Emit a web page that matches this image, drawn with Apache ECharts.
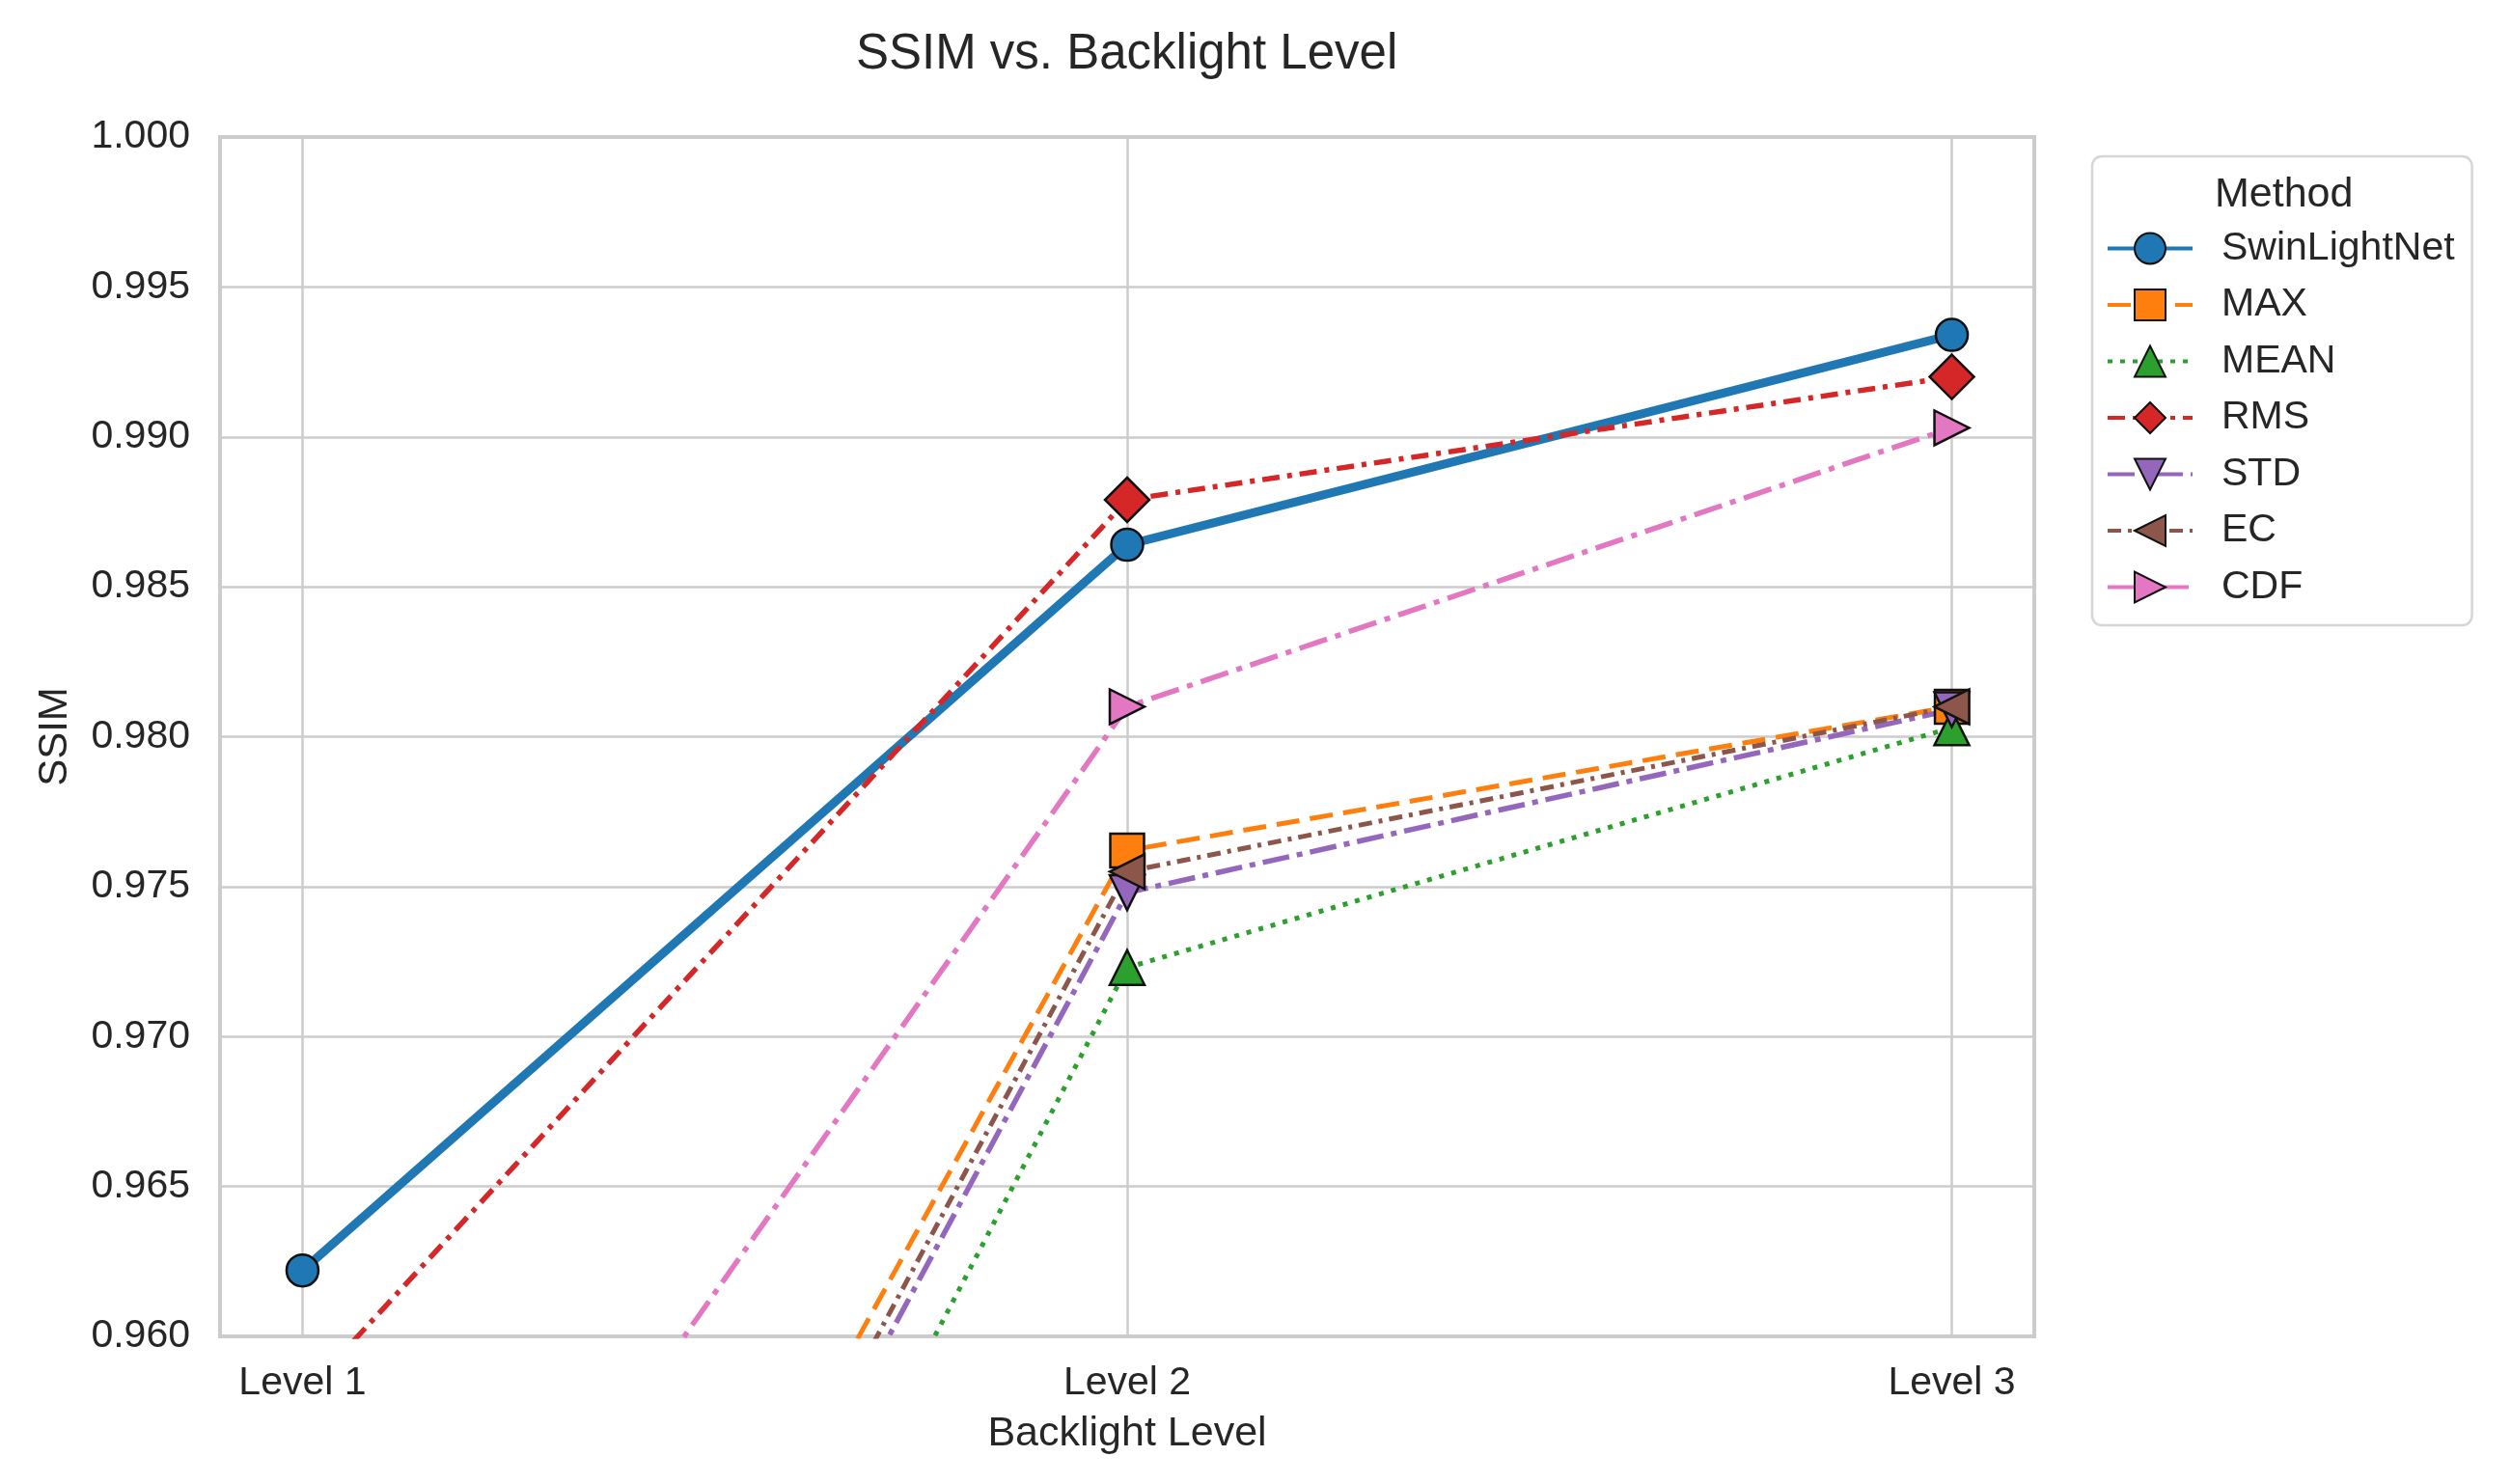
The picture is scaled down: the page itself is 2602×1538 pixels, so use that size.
<!DOCTYPE html>
<html>
<head>
<meta charset="utf-8">
<title>SSIM vs. Backlight Level</title>
<script src="https://cdn.jsdelivr.net/npm/echarts@6/dist/echarts.min.js"></script>
<style>
  html, body { margin: 0; padding: 0; background: #fff; }
  #chart { width: 2602px; height: 1538px; }
</style>
</head>
<body>
<div id="chart"></div>
<script>
// categories on the x axis
const levels = ['Level 1', 'Level 2', 'Level 3'];
const yTicks = [0.960, 0.965, 0.970, 0.975, 0.980, 0.985, 0.990, 0.995, 1.000];

// SSIM per method (Level 1, Level 2, Level 3)
const swinLightNet = [0.9622, 0.9864, 0.9934];
const maxVals = [0.9264, 0.9762, 0.9810];
const meanVals = [0.9196, 0.9723, 0.9803];
const rmsVals = [0.9580, 0.9879, 0.9920];
const stdVals = [0.9236, 0.9748, 0.9809];
const ecVals = [0.9244, 0.9755, 0.9810];
const cdfVals = [0.9419, 0.9810, 0.9903];

const methods = ['SwinLightNet', 'MAX', 'MEAN', 'RMS', 'STD', 'EC', 'CDF'];

function drawChart() {
  const chart = echarts.init(document.getElementById('chart'));
  const font = 'Liberation Sans, Arial, sans-serif';
  const textColor = '#262626';
  const gridColor = '#cccccc';

  // x positions are the category indices
  const pts = vals => vals.map((v, i) => [i, v]);

  function makeSeries(name, vals, color, width, dash, symbol, size, rotate) {
    return {
      name: name,
      type: 'line',
      data: pts(vals),
      symbol: symbol,
      symbolSize: size,
      symbolRotate: rotate || 0,
      showAllSymbol: true,
      clip: true,
      lineStyle: { color: color, width: width, type: dash },
      itemStyle: { color: color, borderColor: '#111', borderWidth: 2.5 },
      emphasis: { disabled: true }
    };
  }

  const option = {
    animation: false,
    backgroundColor: '#ffffff',
    title: [
      {
        text: 'SSIM vs. Backlight Level',
        left: 882,
        top: 26,
        textStyle: { fontFamily: font, fontSize: 51, fontWeight: 'normal', color: textColor }
      },
      {
        text: 'Method',
        left: 2290,
        top: 176,
        z: 10,
        textStyle: { fontFamily: font, fontSize: 43, fontWeight: 'normal', color: textColor }
      }
    ],
    legend: {
      data: methods,
      orient: 'vertical',
      left: 2168,
      top: 162,
      padding: [75, 18, 19, 14],
      itemWidth: 88,
      itemHeight: 40,
      itemGap: 17.5,
      backgroundColor: '#ffffff',
      borderColor: '#d6d6d6',
      borderWidth: 2.5,
      borderRadius: 10,
      lineStyle: { width: 4 },
      textStyle: { fontFamily: font, fontSize: 41, color: textColor, padding: [0, 0, 0, 25] }
    },
    grid: {
      left: 228,
      top: 142,
      width: 1880,
      height: 1243,
      show: true,
      borderColor: gridColor,
      borderWidth: 4,
      containLabel: false
    },
    xAxis: {
      type: 'value',
      min: -0.1,
      max: 2.1,
      name: 'Backlight Level',
      nameLocation: 'middle',
      nameGap: 80,
      nameTextStyle: { fontFamily: font, fontSize: 43, color: textColor },
      axisLine: { show: false },
      axisTick: { show: false, customValues: levels.map((_, i) => i) },
      splitLine: { show: false },
      axisLabel: {
        customValues: levels.map((_, i) => i),
        formatter: v => levels[Math.round(v)] || '',
        fontFamily: font,
        fontSize: 41,
        color: textColor,
        margin: 28
      }
    },
    yAxis: {
      type: 'value',
      min: yTicks[0],
      max: yTicks[yTicks.length - 1],
      interval: 0.005,
      name: 'SSIM',
      nameLocation: 'middle',
      nameGap: 150,
      nameTextStyle: { fontFamily: font, fontSize: 42, color: textColor },
      axisLine: { show: false },
      axisTick: { show: false },
      splitLine: { lineStyle: { color: gridColor, width: 2.5 } },
      axisLabel: {
        formatter: v => v.toFixed(3),
        fontFamily: font,
        fontSize: 41,
        color: textColor,
        margin: 31
      }
    },
    series: [
      {
        // vertical grid lines at each level
        name: '_grid',
        type: 'line',
        data: [],
        z: 1,
        markLine: {
          silent: true,
          z: 1,
          symbol: ['none', 'none'],
          label: { show: false },
          lineStyle: { color: gridColor, width: 2.5, type: 'solid' },
          data: levels.map((_, i) => ({ xAxis: i }))
        }
      },
      makeSeries('SwinLightNet', swinLightNet, '#1f77b4', 9, 'solid', 'circle', 33),
      makeSeries('MAX', maxVals, '#ff7f0e', 5, [24, 11], 'rect', 35),
      makeSeries('MEAN', meanVals, '#2ca02c', 5, [5, 8], 'triangle', 36),
      makeSeries('RMS', rmsVals, '#d62728', 5.5, [18, 8, 5, 8], 'diamond', 46),
      makeSeries('STD', stdVals, '#9467bd', 5.5, [28, 8, 6, 8], 'triangle', 36, 180),
      makeSeries('EC', ecVals, '#8c564b', 5, [14, 7, 4, 7], 'triangle', 36, 90),
      makeSeries('CDF', cdfVals, '#e377c2', 5.5, [30, 9, 6, 9], 'triangle', 36, -90)
    ]
  };

  chart.setOption(option);
}

window.addEventListener('load', drawChart);
</script>
</body>
</html>
